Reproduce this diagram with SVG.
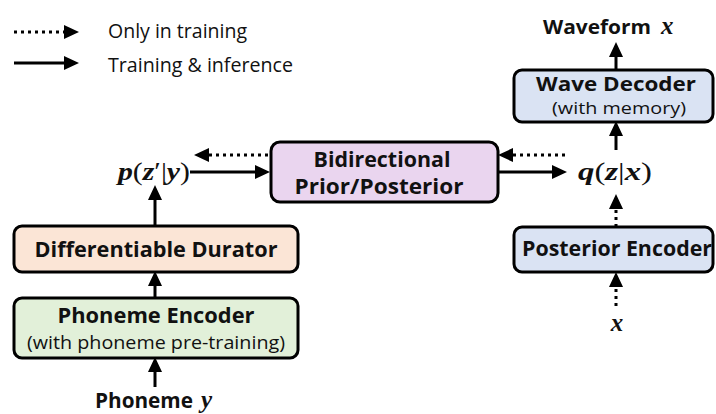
<svg xmlns="http://www.w3.org/2000/svg" width="716" height="414" viewBox="0 0 716 414">
<style>
.box{stroke:#000;stroke-width:3;}
.t{font-family:"Open Sans","Liberation Sans",sans-serif;font-weight:bold;fill:#111;text-anchor:middle;}
.s{font-family:"Open Sans","Liberation Sans",sans-serif;fill:#111;text-anchor:middle;}
.l{font-family:"Open Sans","Liberation Sans",sans-serif;fill:#111;}
.m{font-family:"Liberation Serif","DejaVu Serif",serif;fill:#111;}
.mi{font-weight:bold;font-style:italic;}
.c{stroke:#000;stroke-width:3;fill:none;}
.d{stroke-dasharray:3 4;}
</style>
<defs>
<marker id="ah" markerUnits="userSpaceOnUse" markerWidth="16" markerHeight="14" viewBox="0 0 16 14" refX="11" refY="7" orient="auto">
<path d="M0,0 L15,7 L0,14 z" fill="#000"/>
</marker>
</defs>

<g id="legend">
<text class="l" x="108" y="38" font-size="19.5" textLength="139" lengthAdjust="spacingAndGlyphs">Only in training</text>
<text class="l" x="108" y="72" font-size="19.5" textLength="185" lengthAdjust="spacingAndGlyphs">Training &amp; inference</text>
</g>

<g id="connectors">
<line class="c d" x1="14" y1="32" x2="75" y2="32" marker-end="url(#ah)"/>
<line class="c" x1="14" y1="63" x2="75" y2="63" marker-end="url(#ah)"/>
<line class="c" x1="155" y1="387" x2="155" y2="361" marker-end="url(#ah)"/>
<line class="c" x1="155" y1="298" x2="155" y2="275" marker-end="url(#ah)"/>
<line class="c" x1="155" y1="226" x2="155" y2="189" marker-end="url(#ah)"/>
<line class="c" x1="190" y1="172" x2="266" y2="172" marker-end="url(#ah)"/>
<line class="c d" x1="268" y1="155" x2="198" y2="155" marker-end="url(#ah)"/>
<line class="c d" x1="565" y1="155" x2="502" y2="155" marker-end="url(#ah)"/>
<line class="c" x1="499" y1="172" x2="563" y2="172" marker-end="url(#ah)"/>
<line class="c d" x1="616" y1="306" x2="616" y2="276" marker-end="url(#ah)"/>
<line class="c d" x1="616" y1="227" x2="616" y2="198" marker-end="url(#ah)"/>
<line class="c" x1="616" y1="150" x2="616" y2="125" marker-end="url(#ah)"/>
<line class="c" x1="616" y1="70" x2="616" y2="46" marker-end="url(#ah)"/>
</g>

<g id="waveform">
<text font-size="19.5"><tspan class="t" x="597" y="34" textLength="108" lengthAdjust="spacingAndGlyphs">Waveform</tspan><tspan class="m mi" x="661" y="34" font-size="25">x</tspan></text>
</g>

<g id="wave-decoder">
<rect class="box" x="514" y="70" width="199" height="52" rx="8" fill="#DAE3F3"/>
<text class="t" x="616" y="91" font-size="20" textLength="160" lengthAdjust="spacingAndGlyphs">Wave Decoder</text>
<text class="s" x="619" y="114" font-size="15.5" textLength="134" lengthAdjust="spacingAndGlyphs">(with memory)</text>
</g>

<g id="q-posterior">
<text class="m" x="578" y="180" font-size="26" textLength="74" lengthAdjust="spacingAndGlyphs"><tspan class="mi">q</tspan>(<tspan class="mi">z</tspan>|<tspan class="mi">x</tspan>)</text>
</g>

<g id="bidirectional">
<rect class="box" x="271" y="142" width="227" height="60" rx="9" fill="#EAD5EF"/>
<text class="t" x="382" y="167" font-size="20.5" textLength="137" lengthAdjust="spacingAndGlyphs">Bidirectional</text>
<text class="t" x="379" y="194" font-size="20.5" textLength="169" lengthAdjust="spacingAndGlyphs">Prior/Posterior</text>
</g>

<g id="p-prior">
<text class="m" x="118" y="180" font-size="26" textLength="72" lengthAdjust="spacingAndGlyphs"><tspan class="mi">p</tspan>(<tspan class="mi">z</tspan>′|<tspan class="mi">y</tspan>)</text>
</g>

<g id="posterior-encoder">
<rect class="box" x="514" y="227" width="199" height="45" rx="8" fill="#DAE3F3"/>
<text class="t" x="617" y="256" font-size="20.5" textLength="190" lengthAdjust="spacingAndGlyphs">Posterior Encoder</text>
</g>

<g id="x-input">
<text class="m mi" x="617" y="331" font-size="25" text-anchor="middle">x</text>
</g>

<g id="durator">
<rect class="box" x="14" y="226" width="284" height="46" rx="8" fill="#FBE5D6"/>
<text class="t" x="156" y="257" font-size="21" textLength="243" lengthAdjust="spacingAndGlyphs">Differentiable Durator</text>
</g>

<g id="phoneme-encoder">
<rect class="box" x="14" y="298" width="284" height="60" rx="8" fill="#E2F0D9"/>
<text class="t" x="156" y="323" font-size="21" textLength="197" lengthAdjust="spacingAndGlyphs">Phoneme Encoder</text>
<text class="s" x="156" y="349" font-size="17.5" textLength="258" lengthAdjust="spacingAndGlyphs">(with phoneme pre-training)</text>
</g>

<g id="phoneme-y">
<text font-size="20.5"><tspan class="t" x="144" y="408" textLength="98" lengthAdjust="spacingAndGlyphs">Phoneme</tspan><tspan class="m mi" x="201" y="408" font-size="25">y</tspan></text>
</g>
</svg>
